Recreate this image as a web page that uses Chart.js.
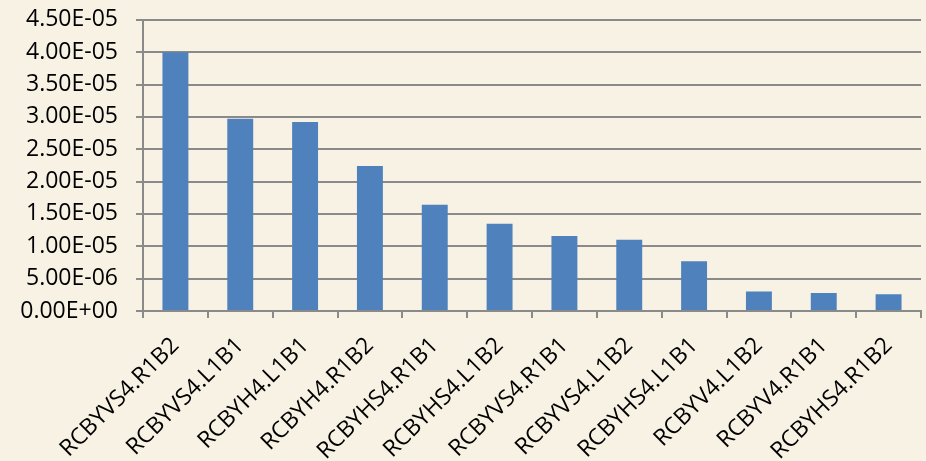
<!DOCTYPE html>
<html>
<head>
<meta charset="utf-8">
<script src="https://cdn.jsdelivr.net/npm/chart.js@4/dist/chart.umd.min.js"></script>
<style>
  html, body { margin: 0; padding: 0; background: #F7F2E4; overflow: hidden; }
  #wrap { width: 926px; height: 461px; overflow: hidden; position: relative; }
  #inner { position: absolute; left: 0; top: -12px; width: 926px; height: 473px; }
</style>
</head>
<body>
<div id="wrap"><div id="inner"><canvas id="bars"></canvas></div></div>
<script>
// sample names and their values
const categories = [
  "RCBYVS4.R1B2", "RCBYVS4.L1B1", "RCBYH4.L1B1", "RCBYH4.R1B2",
  "RCBYHS4.R1B1", "RCBYHS4.L1B2", "RCBYVS4.R1B1", "RCBYVS4.L1B2",
  "RCBYHS4.L1B1", "RCBYV4.L1B2", "RCBYV4.R1B1", "RCBYHS4.R1B2"
];
const values = [
  4.00e-5, 2.97e-5, 2.92e-5, 2.24e-5,
  1.64e-5, 1.35e-5, 1.16e-5, 1.10e-5,
  7.7e-6, 3.0e-6, 2.8e-6, 2.6e-6
];
const yMin = 0;
const yMax = 4.5e-5;
const yStep = 5e-6;

// Excel-style scientific label: 4.50E-05
const sci = (v) => {
  if (Math.abs(v) < 1e-12) return "0.00E+00";
  const [m, e] = v.toExponential(2).split("e");
  const n = parseInt(e, 10);
  const sign = n < 0 ? "-" : "+";
  return m + "E" + sign + String(Math.abs(n)).padStart(2, "0");
};

const gridGray = "#8A8A8A";
const font = { family: "'Open Sans', sans-serif", size: 23 };

const ctx = document.getElementById("bars").getContext("2d");
new Chart(ctx, {
  type: "bar",
  data: {
    labels: categories,
    datasets: [{
      data: values,
      backgroundColor: "#4F81BD",
      borderWidth: 0,
      barPercentage: 0.4,
      categoryPercentage: 1.0
    }]
  },
  options: {
    responsive: true,
    maintainAspectRatio: false,
    animation: false,
    layout: { padding: { top: 0, right: 5, left: 0, bottom: 0 } },
    plugins: {
      legend: { display: false },
      tooltip: { enabled: false }
    },
    scales: {
      x: {
        offset: true,
        grid: {
          offset: true,
          drawOnChartArea: false,
          drawTicks: true,
          tickLength: 7,
          color: gridGray,
          lineWidth: 2
        },
        border: { color: gridGray, width: 2 },
        ticks: {
          color: "#000",
          font: font,
          minRotation: 45,
          maxRotation: 45,
          padding: 14,
          autoSkip: false
        },
        afterFit: (scale) => { scale.height = 150; }
      },
      y: {
        min: yMin,
        max: yMax,
        grid: {
          color: gridGray,
          lineWidth: 2,
          tickLength: 7
        },
        border: { color: gridGray, width: 2 },
        ticks: {
          stepSize: yStep,
          color: "#000",
          font: font,
          padding: 18,
          callback: (v) => sci(v)
        },
        afterFit: (scale) => { scale.width = 143; }
      }
    }
  }
});
</script>
</body>
</html>
